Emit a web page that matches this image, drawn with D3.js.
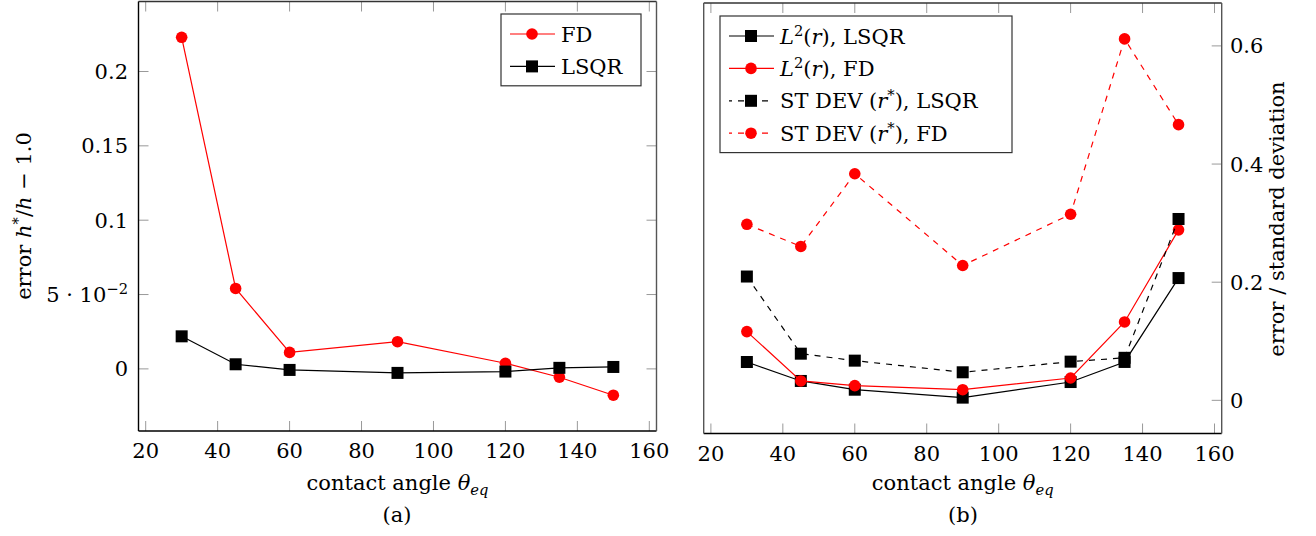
<!DOCTYPE html>
<html>
<head>
<meta charset="utf-8">
<script src="https://cdn.jsdelivr.net/npm/d3@7"></script>
<style>
  body { margin: 0; background: #fff; }
  svg { display: block; }
  text { font-family: "DejaVu Serif", serif; }
</style>
</head>
<body>
<svg id="chart" width="1316" height="536"></svg>
<script>
// data
var angles = [30, 45, 60, 90, 120, 135, 150];
var xTicks = [20, 40, 60, 80, 100, 120, 140, 160];

// (a) relative error of h
var hErrFD = [0.223, 0.0541, 0.0111, 0.0183, 0.0038, -0.0056, -0.0177];
var hErrLSQR = [0.0219, 0.0031, -0.0007, -0.0027, -0.0018, 0.0007, 0.0013];
var leftYTicks = [0, 0.05, 0.1, 0.15, 0.2];
var leftYLabels = [[["0", "r"]], [["5 · 10", "r"], ["−2", "sup"]], [["0.1", "r"]], [["0.15", "r"]], [["0.2", "r"]]];

// (b) error / standard deviation
var l2LSQR = [0.0649, 0.0328, 0.018, 0.0046, 0.031, 0.065, 0.207];
var l2FD = [0.1164, 0.0328, 0.0249, 0.018, 0.0378, 0.1327, 0.2886];
var stdLSQR = [0.2096, 0.079, 0.0672, 0.0475, 0.0655, 0.072, 0.307];
var stdFD = [0.298, 0.2605, 0.3836, 0.2283, 0.315, 0.6119, 0.4667];
var rightYTicks = [0, 0.2, 0.4, 0.6];

var fontSize = 21;
var tickLen = 10;
var svg = d3.select("#chart")
    .style("font-size", fontSize + "px");

// text with italic / super / subscript parts
function richText(sel, parts) {
  var shift = 0;
  parts.forEach(function(p) {
    var target = p[1] === "sup" ? -8 : p[1] === "sub" || p[1] === "subi" ? 5 : 0;
    var ts = sel.append("tspan")
        .text(p[0])
        .attr("dy", target - shift);
    if (p[1] === "i" || p[1] === "subi") ts.style("font-style", "italic");
    if (p[1] === "sup" || p[1] === "sub" || p[1] === "subi") ts.style("font-size", "70%");
    shift = target;
  });
  return sel;
}

// pgfplots style: 10% margin around the data
function enlarged(values) {
  var ext = d3.extent(values);
  var pad = (ext[1] - ext[0]) * 0.1;
  return [ext[0] - pad, ext[1] + pad];
}

function marker(g, shape, color, x, y) {
  if (shape === "square") {
    g.append("rect")
      .attr("x", x - 6)
      .attr("y", y - 6)
      .attr("width", 12)
      .attr("height", 12)
      .attr("fill", color);
  } else {
    g.append("circle")
      .attr("cx", x)
      .attr("cy", y)
      .attr("r", 5.8)
      .attr("fill", color);
  }
}

function drawSeries(g, xScale, yScale, values, s) {
  var pts = angles.map((a, i) => [a, values[i]]);
  g.append("path")
    .datum(pts)
      .attr("fill", "none")
      .attr("stroke", s.color)
      .attr("stroke-width", 1.2)
      .attr("stroke-dasharray", s.dashed ? "6,6" : null)
      .attr("d", d3.line().x(d => xScale(d[0])).y(d => yScale(d[1])));
  pts.forEach(d => marker(g, s.shape, s.color, xScale(d[0]), yScale(d[1])));
}

function drawLegend(g, x, y, w, entries) {
  var rowH = 32.4;
  var h = entries.length * rowH + 7;
  g.append("rect")
    .attr("x", x).attr("y", y)
    .attr("width", w).attr("height", h)
    .attr("fill", "#fff")
    .attr("stroke", "#333")
    .attr("stroke-width", 1.2);
  entries.forEach(function(e, i) {
    var cy = y + 20 + i * rowH;
    g.append("line")
      .attr("x1", x + 9).attr("x2", x + 54)
      .attr("y1", cy).attr("y2", cy)
      .attr("stroke", e.color)
      .attr("stroke-width", 1.2)
      .attr("stroke-dasharray", e.dashed ? "6,6" : null)
      .attr("stroke-dashoffset", e.dashed ? 3 : 0);
    marker(g, e.shape, e.color, x + 31, cy);
    richText(
      g.append("text")
        .attr("x", x + 60)
        .attr("y", cy + 7.5),
      e.label);
  });
}

function drawXAxis(g, xScale, top, bottom) {
  xTicks.forEach(function(t) {
    var x = xScale(t);
    g.append("line")
      .attr("x1", x).attr("x2", x)
      .attr("y1", bottom).attr("y2", bottom - tickLen)
      .attr("stroke", "#999");
    g.append("line")
      .attr("x1", x).attr("x2", x)
      .attr("y1", top).attr("y2", top + tickLen)
      .attr("stroke", "#999");
    g.append("text")
      .text(t)
      .attr("x", x)
      .attr("y", bottom + 27)
      .attr("text-anchor", "middle");
  });
  var mid = (xScale.range()[0] + xScale.range()[1]) / 2;
  richText(
    g.append("text")
      .attr("x", mid)
      .attr("y", 490)
      .attr("text-anchor", "middle"),
    [["contact angle ", "r"], ["θ", "i"], ["eq", "subi"]]);
}

function frame(g, x0, x1, y0, y1, leftColor, rightColor) {
  g.append("line").attr("x1", x0).attr("x2", x1).attr("y1", y0).attr("y2", y0)
    .attr("stroke", "#333").attr("stroke-width", 1.3);
  g.append("line").attr("x1", x0).attr("x2", x1).attr("y1", y1).attr("y2", y1)
    .attr("stroke", "#000").attr("stroke-width", 1.4);
  g.append("line").attr("x1", x0).attr("x2", x0).attr("y1", y0).attr("y2", y1)
    .attr("stroke", leftColor).attr("stroke-width", 1.4);
  g.append("line").attr("x1", x1).attr("x2", x1).attr("y1", y0).attr("y2", y1)
    .attr("stroke", rightColor).attr("stroke-width", 1.4);
}

// ---------- (a) ----------
var gA = svg.append("g");
var xA = d3.scaleLinear().domain([18, 162]).range([138.5, 656.5]);
var yA = d3.scaleLinear()
    .domain(enlarged(hErrFD.concat(hErrLSQR)))
    .range([431, 1.5]);

leftYTicks.forEach(function(t, i) {
  var y = yA(t);
  gA.append("line")
    .attr("x1", 138.5).attr("x2", 138.5 + tickLen)
    .attr("y1", y).attr("y2", y)
    .attr("stroke", "#999");
  gA.append("line")
    .attr("x1", 656.5).attr("x2", 656.5 - tickLen)
    .attr("y1", y).attr("y2", y)
    .attr("stroke", "#999");
  richText(
    gA.append("text")
      .attr("x", 128)
      .attr("y", y + 7.5)
      .attr("text-anchor", "end"),
    leftYLabels[i]);
});
drawXAxis(gA, xA, 1.5, 431);

richText(
  gA.append("text")
    .attr("transform", "translate(31, 216) rotate(-90)")
    .attr("text-anchor", "middle"),
  [["error ", "r"], ["h", "i"], ["*", "sup"], ["/", "r"], ["h", "i"], [" − 1.0", "r"]]);

drawSeries(gA, xA, yA, hErrFD, { color: "#ff0000", shape: "circle" });
drawSeries(gA, xA, yA, hErrLSQR, { color: "#000", shape: "square" });
frame(gA, 138.5, 656.5, 1.5, 431, "#000", "#555");

drawLegend(gA, 501, 14, 140, [
  { color: "#ff0000", shape: "circle", label: [["FD", "r"]] },
  { color: "#000", shape: "square", label: [["LSQR", "r"]] }
]);

svg.append("text")
  .text("(a)")
  .attr("x", 397)
  .attr("y", 522)
  .attr("text-anchor", "middle");

// ---------- (b) ----------
var gB = svg.append("g");
var xB = d3.scaleLinear().domain([18, 162]).range([703.7, 1221.7]);
var yB = d3.scaleLinear()
    .domain(enlarged(l2LSQR.concat(l2FD, stdLSQR, stdFD)))
    .range([433.5, 3]);

rightYTicks.forEach(function(t) {
  var y = yB(t);
  gB.append("line")
    .attr("x1", 1221.7).attr("x2", 1221.7 - tickLen)
    .attr("y1", y).attr("y2", y)
    .attr("stroke", "#999");
  gB.append("text")
    .text(t)
    .attr("x", 1230)
    .attr("y", y + 7.5);
});
drawXAxis(gB, xB, 3, 433.5);

gB.append("text")
  .text("error / standard deviation")
  .attr("transform", "translate(1284, 219) rotate(-90)")
  .attr("text-anchor", "middle");

drawSeries(gB, xB, yB, l2LSQR, { color: "#000", shape: "square" });
drawSeries(gB, xB, yB, l2FD, { color: "#ff0000", shape: "circle" });
drawSeries(gB, xB, yB, stdLSQR, { color: "#000", shape: "square", dashed: true });
drawSeries(gB, xB, yB, stdFD, { color: "#ff0000", shape: "circle", dashed: true });
frame(gB, 703.7, 1221.7, 3, 433.5, "#555", "#555");

drawLegend(gB, 720, 16, 292, [
  { color: "#000", shape: "square", label: [["L", "i"], ["2", "sup"], ["(", "r"], ["r", "i"], ["), LSQR", "r"]] },
  { color: "#ff0000", shape: "circle", label: [["L", "i"], ["2", "sup"], ["(", "r"], ["r", "i"], ["), FD", "r"]] },
  { color: "#000", shape: "square", dashed: true, label: [["ST DEV (", "r"], ["r", "i"], ["*", "sup"], ["), LSQR", "r"]] },
  { color: "#ff0000", shape: "circle", dashed: true, label: [["ST DEV (", "r"], ["r", "i"], ["*", "sup"], ["), FD", "r"]] }
]);

svg.append("text")
  .text("(b)")
  .attr("x", 963)
  .attr("y", 522)
  .attr("text-anchor", "middle");
</script>
</body>
</html>
